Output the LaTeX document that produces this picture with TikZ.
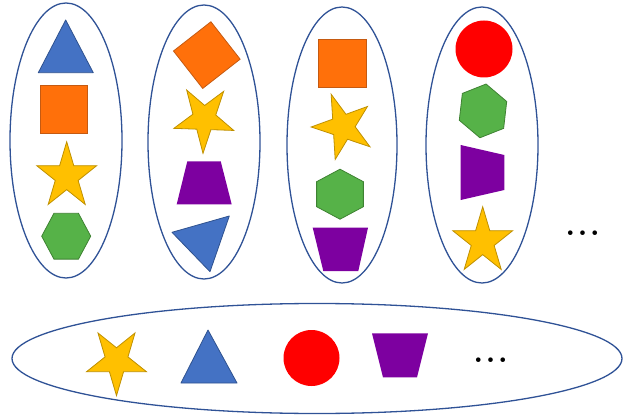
\documentclass[tikz,border=0pt]{standalone}
\usetikzlibrary{shapes.geometric}
\definecolor{setline}{RGB}{47,82,150}
\definecolor{blueshape}{RGB}{68,114,196}
\definecolor{blueline}{RGB}{47,82,143}
\definecolor{orangeshape}{RGB}{255,112,10}
\definecolor{orangeline}{RGB}{197,90,17}
\definecolor{goldshape}{RGB}{255,192,0}
\definecolor{goldline}{RGB}{191,144,0}
\definecolor{greenshape}{RGB}{86,178,72}
\definecolor{greenline}{RGB}{62,130,50}
\definecolor{purpleshape}{RGB}{125,0,160}
\begin{document}
\begin{tikzpicture}
  [x=1pt,y=-1pt,
   set/.style={draw=setline,line width=1.3pt,ellipse,inner sep=0pt},
   shp/.style={inner sep=0pt,outer sep=0pt,line width=0.8pt},
   sq/.style={shp,rectangle,draw=orangeline,fill=orangeshape,minimum size=47.5pt},
   starn/.style={shp,star,star points=5,star point ratio=2.618,draw=goldline,fill=goldshape,minimum size=63pt,yscale=1.1},
   hexa/.style={shp,regular polygon,regular polygon sides=6,draw=greenline,fill=greenshape,minimum size=49pt,yscale=1.08},
   disc/.style={shp,circle,fill=red,minimum size=56pt},
   tri/.style={draw=blueline,fill=blueshape,line width=0.8pt,line join=round},
   trap/.style={fill=purpleshape},
   dots/.style={inner sep=0pt,font=\fontsize{32}{34}\selectfont\bfseries}]
  \useasboundingbox (0,0) rectangle (624,417);
  % the four sets
  \node[set,minimum width=112pt,minimum height=275pt] (setA) at (66,140.5) {};
  \node[set,minimum width=112pt,minimum height=274pt] (setB) at (204,142) {};
  \node[set,minimum width=110pt,minimum height=276pt] (setC) at (342,145) {};
  \node[set,minimum width=112pt,minimum height=276pt] (setD) at (482,145) {};
  \node[dots] (moreD) at (582.7,233.3) {.\kern2.3pt.\kern2.3pt.};
  % first set
  \draw[tri] (65.7,20) -- (93.3,72.7) -- (38.3,72.7) -- cycle;
  \node[sq] (sqA) at (63.8,109.2) {};
  \node[starn] (starA) at (66.7,176.4) {};
  \node[hexa] (hexA) at (66.2,236.2) {};
  % second set
  \node[rotate=38,sq] (sqB) at (206.8,55.1) {};
  \node[rotate=178,starn] (starB) at (204.2,118.7) {};
  \fill[trap] (187.3,161.3) -- (220.7,161.3) -- (231.7,204.3) -- (176.7,204.3) -- cycle;
  \draw[tri] (172,232.3) -- (229.3,216) -- (210,271.7) -- cycle;
  % third set
  \node[sq] (sqC) at (342.5,63.3) {};
  \node[rotate=20,starn] (starC) at (343,126.8) {};
  \node[rotate=90,hexa,minimum size=50pt] (hexC) at (340,194.2) {};
  \fill[trap] (312.7,227.7) -- (368,227.7) -- (358.3,271) -- (323.3,271) -- cycle;
  % fourth set
  \node[disc,minimum size=57pt] (discD) at (484,49) {};
  \node[rotate=21.6,hexa,minimum size=51pt] (hexD) at (483,110.9) {};
  \fill[trap] (460.7,145) -- (504.3,155) -- (504.3,190) -- (460.7,200) -- cycle;
  \node[starn] (starD) at (482.7,241.4) {};
  % the big set
  \node[set,minimum width=610pt,minimum height=110pt] (setAll) at (317,358.5) {};
  \node[rotate=180,starn] (starAll) at (116.5,361) {};
  \draw[tri] (208,330) -- (237,383) -- (181,383) -- cycle;
  \node[disc] (discAll) at (311.5,358) {};
  \fill[trap] (372,333.3) -- (428,333.3) -- (417,377.3) -- (383,377.3) -- cycle;
  \node[dots] (moreAll) at (490.6,360) {.\kern2.3pt.\kern2.3pt.};
\end{tikzpicture}
\end{document}
